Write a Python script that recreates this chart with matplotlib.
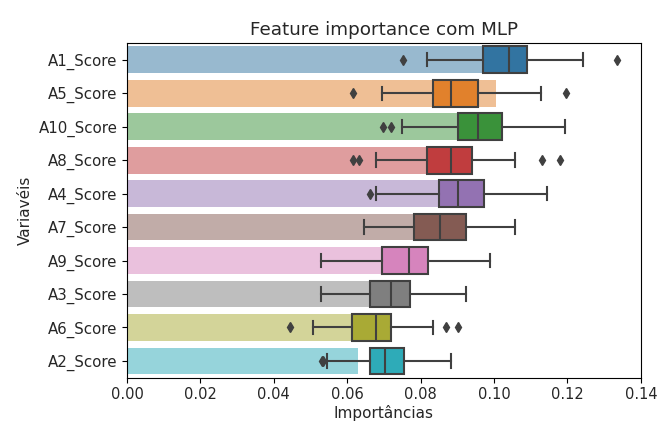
import matplotlib
matplotlib.use('Agg')
import matplotlib.pyplot as plt
import seaborn as sns

# variables, top to bottom
labels = ['A1_Score', 'A5_Score', 'A10_Score', 'A8_Score', 'A4_Score',
          'A7_Score', 'A9_Score', 'A3_Score', 'A6_Score', 'A2_Score']

# mean importance (bars)
means = [0.101, 0.1005, 0.094, 0.087, 0.088, 0.082, 0.072, 0.070, 0.065, 0.063]

# box stats
whislo = [0.0816, 0.0696, 0.0750, 0.0679, 0.0679, 0.0645, 0.0529, 0.0529, 0.0507, 0.0546]
q1 = [0.0970, 0.0834, 0.0901, 0.0816, 0.0850, 0.0782, 0.0696, 0.0663, 0.0612, 0.0663]
med = [0.1040, 0.0884, 0.0955, 0.0884, 0.0901, 0.0852, 0.0768, 0.0718, 0.0679, 0.0702]
q3 = [0.1089, 0.0955, 0.1021, 0.0940, 0.0974, 0.0923, 0.0819, 0.0770, 0.0719, 0.0756]
whishi = [0.1243, 0.1127, 0.1194, 0.1057, 0.1143, 0.1057, 0.0989, 0.0923, 0.0833, 0.0884]
fliers = [[0.0752, 0.1334], [0.0615, 0.1195], [0.0698, 0.0719],
          [0.0615, 0.0632, 0.1130, 0.1180], [0.0663], [], [], [],
          [0.0443, 0.0870, 0.0903], [0.0530, 0.0533]]

colors = sns.color_palette('tab10', desat=0.75)
pos = list(range(len(labels)))
txt = '#262626'

fig = plt.figure(figsize=(6.6, 4.22), dpi=100)
ax = fig.add_axes([0.1924, 0.105, 0.7786, 0.793])

ax.barh(pos, means, height=0.8, color=colors, alpha=0.5, zorder=1)

stats = []
for i in range(len(labels)):
    stats.append(dict(whislo=whislo[i], q1=q1[i], med=med[i], q3=q3[i],
                      whishi=whishi[i], fliers=fliers[i]))

gray = (0.25, 0.25, 0.25)
bp = ax.bxp(stats, positions=pos, vert=False, widths=0.8, patch_artist=True,
            manage_ticks=False, zorder=2)
for i, box in enumerate(bp['boxes']):
    box.set_facecolor(colors[i])
    box.set_edgecolor(gray)
    box.set_linewidth(1.5)
plt.setp(bp['whiskers'], color=gray, linewidth=1.5)
plt.setp(bp['caps'], color=gray, linewidth=1.5)
plt.setp(bp['medians'], color=gray, linewidth=1.5)
plt.setp(bp['fliers'], marker='d', markerfacecolor=gray, markeredgecolor=gray,
         markersize=5)

ax.set_yticks(pos)
ax.set_yticklabels(labels, fontsize=10.8, color=txt)
ax.set_ylim(len(labels) - 0.5, -0.5)
ax.set_xlim(0, 0.14)
ax.set_xticks([0, 0.02, 0.04, 0.06, 0.08, 0.10, 0.12, 0.14])
ax.set_xticklabels(['0.00', '0.02', '0.04', '0.06', '0.08', '0.10', '0.12', '0.14'],
                   fontsize=10.5, color=txt)
ax.set_title('Feature importance com MLP', fontsize=13.2, color=txt)
ax.set_xlabel('Importâncias', fontsize=11, color=txt, labelpad=2)
ax.set_ylabel('Variavéis', fontsize=11, color=txt)

fig.savefig('out.png', dpi=100)
